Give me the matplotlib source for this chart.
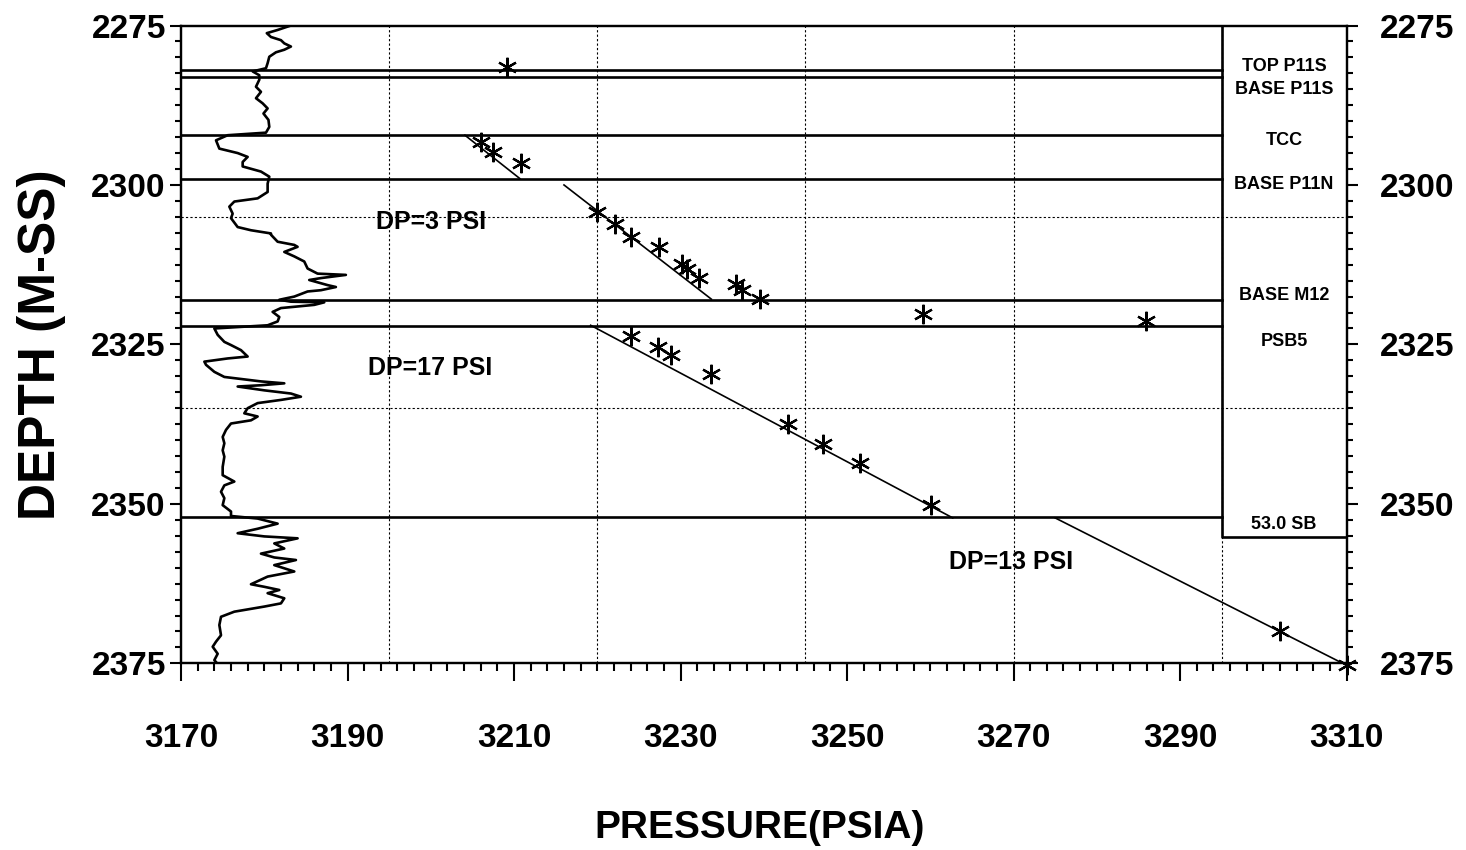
import matplotlib
matplotlib.use("Agg")
import matplotlib.pyplot as plt
from matplotlib.ticker import MultipleLocator, FixedLocator

plt.rcParams['font.family'] = ['Liberation Sans', 'DejaVu Sans']
plt.rcParams['font.weight'] = 'bold'

# formation tops (depth, m-ss) and their names in the side box
tops_depth = [2282.0, 2283.0, 2292.2, 2299.1, 2318.0, 2322.1, 2352.1]
box_labels = ["TOP P11S", "BASE P11S", "TCC", "BASE P11N", "BASE M12", "PSB5", "53.0 SB"]
box_label_depth = [2281.4, 2285.0, 2293.0, 2299.9, 2317.4, 2324.6, 2353.2]
box_bottom = 2355.2

# pressure points
press = [3209.2, 3206.0, 3207.5, 3210.8, 3220.0, 3222.1, 3224.1, 3227.4, 3230.2,
         3230.8, 3232.2, 3236.7, 3237.4, 3239.5, 3259.1, 3285.9, 3224.0, 3227.3,
         3228.9, 3233.6, 3242.9, 3247.1, 3251.5, 3260.1, 3302.0, 3310.0]
depth = [2281.5, 2293.2, 2294.8, 2296.5, 2304.2, 2306.1, 2308.1, 2309.8, 2312.4,
         2313.2, 2314.6, 2315.6, 2316.4, 2317.9, 2320.3, 2321.3, 2323.7, 2325.4,
         2326.6, 2329.6, 2337.5, 2340.6, 2343.6, 2350.1, 2370.0, 2375.3]

# gradient lines (pressure start/end, depth start/end)
grad_p = [(3204.1, 3210.7), (3216.0, 3233.7), (3219.2, 3262.7), (3275.0, 3310.0)]
grad_d = [(2292.2, 2299.0), (2300.0, 2317.9), (2322.0, 2352.2), (2352.2, 2375.3)]

dp_text = ["DP=3 PSI", "DP=17 PSI", "DP=13 PSI"]
dp_x = [3200.0, 3199.9, 3269.7]
dp_y = [2305.8, 2328.7, 2359.1]

x_ticks = [3170, 3190, 3210, 3230, 3250, 3270, 3290, 3310]

# log curve on the left
log_val = [3183.2, 3181.6, 3180.3, 3180.8, 3182.0, 3182.4, 3183.2, 3182.4, 3181.4, 3180.6,
           3180.4, 3180.2, 3178.6, 3179.4, 3179.4, 3179.0, 3179.6, 3179.0, 3179.8, 3180.4,
           3179.9, 3180.5, 3180.6, 3180.2, 3175.6, 3174.2, 3174.6, 3176.8, 3178.0, 3177.4,
           3177.4, 3179.6, 3180.6, 3180.4, 3180.4, 3179.2, 3176.4, 3175.8, 3176.2, 3176.0,
           3176.8, 3178.4, 3180.8, 3180.8, 3181.6, 3183.6, 3184.0, 3182.4, 3183.6, 3184.8,
           3185.2, 3186.4, 3189.8, 3186.8, 3185.4, 3187.6, 3188.6, 3186.8, 3185.2, 3183.6,
           3181.8, 3183.2, 3187.2, 3186.0, 3182.0, 3181.0, 3181.8, 3181.6, 3180.4, 3174.0,
           3174.4, 3175.2, 3176.0, 3177.2, 3178.0, 3175.6, 3172.8, 3173.0, 3174.0, 3175.2,
           3179.6, 3182.4, 3179.6, 3176.8, 3180.0, 3183.2, 3184.4, 3182.0, 3179.2, 3178.0,
           3177.6, 3179.2, 3178.4, 3176.0, 3175.4, 3175.0, 3175.2, 3175.0, 3175.2, 3175.0,
           3175.0, 3176.4, 3175.2, 3174.8, 3175.2, 3175.0, 3176.0, 3176.0, 3179.2, 3181.6,
           3179.2, 3176.8, 3180.0, 3184.0, 3181.2, 3182.4, 3179.6, 3181.2, 3183.8, 3181.2,
           3183.6, 3180.4, 3178.4, 3180.0, 3181.8, 3180.4, 3182.4, 3182.0, 3180.0, 3176.4,
           3174.8, 3174.6, 3174.8, 3174.2, 3173.8, 3174.4, 3174.0, 3174.2]
log_depth = [2275.0, 2275.7, 2276.2, 2276.8, 2277.3, 2277.8, 2278.3, 2278.8, 2279.2, 2279.9,
             2280.9, 2281.7, 2282.2, 2282.8, 2283.5, 2284.6, 2285.4, 2286.4, 2287.2, 2288.0,
             2288.8, 2289.8, 2290.9, 2291.8, 2292.2, 2293.0, 2294.3, 2295.0, 2295.6, 2296.4,
             2297.1, 2297.9, 2298.7, 2299.8, 2301.1, 2302.1, 2302.6, 2303.4, 2304.5, 2305.2,
             2306.6, 2307.1, 2307.6, 2307.8, 2308.9, 2309.4, 2309.7, 2310.5, 2311.2, 2312.0,
             2313.1, 2313.9, 2314.1, 2314.6, 2314.9, 2315.7, 2316.0, 2316.5, 2316.7, 2317.5,
             2318.0, 2318.3, 2318.4, 2318.8, 2319.3, 2319.9, 2320.7, 2321.4, 2322.0, 2322.5,
             2323.5, 2324.6, 2325.1, 2325.9, 2326.9, 2327.2, 2327.7, 2328.2, 2329.3, 2330.1,
             2330.8, 2331.1, 2331.4, 2331.6, 2332.2, 2332.7, 2333.2, 2333.7, 2334.2, 2335.0,
             2335.8, 2336.3, 2336.9, 2337.4, 2338.4, 2339.5, 2340.5, 2341.6, 2342.6, 2344.2,
             2345.5, 2346.5, 2347.1, 2348.1, 2349.1, 2350.2, 2351.2, 2351.9, 2352.3, 2353.1,
             2353.9, 2354.6, 2355.1, 2355.4, 2356.2, 2357.0, 2357.8, 2358.4, 2358.8, 2359.6,
             2360.6, 2361.4, 2362.6, 2363.0, 2363.5, 2364.0, 2364.8, 2365.6, 2366.1, 2366.9,
             2367.7, 2369.0, 2370.6, 2371.6, 2372.4, 2373.5, 2374.5, 2374.8]

grid_x = [3195, 3220, 3245, 3270, 3295]
grid_y = [2305, 2335]

fig = plt.figure(figsize=(14.66, 8.5), dpi=100)
ax = fig.add_axes([0.1235, 0.2196, 0.795, 0.7504])
ax.set_xlim(3170, 3310)
ax.set_ylim(2375, 2275)

for gx in grid_x:
    ax.axvline(gx, color='black', lw=0.8, ls=(0, (2, 2)), zorder=1)
for gy in grid_y:
    ax.axhline(gy, color='black', lw=0.8, ls=(0, (2, 2)), zorder=1)

ax.plot(log_val, log_depth, color='black', lw=1.9, zorder=3)

for d in tops_depth:
    ax.plot([3170, 3295], [d, d], color='black', lw=1.9, zorder=2)

# side box with formation names
ax.plot([3295, 3295, 3310], [2275, box_bottom, box_bottom], color='black', lw=1.9, zorder=2)
for lab, d in zip(box_labels, box_label_depth):
    ax.text(3302.5, d, lab, ha='center', va='center', fontsize=13, fontweight='bold')

for (p0, p1), (d0, d1) in zip(grad_p, grad_d):
    ax.plot([p0, p1], [d0, d1], color='black', lw=1.2, zorder=3)

ax.plot(press, depth, ls='none', marker=(6, 2, 0), markersize=14, mew=1.6,
        color='black', clip_on=False, zorder=4)

for t, x, y in zip(dp_text, dp_x, dp_y):
    ax.text(x, y, t, ha='center', va='center', fontsize=18, fontweight='bold')

ax.xaxis.set_major_locator(FixedLocator(x_ticks))
ax.xaxis.set_minor_locator(MultipleLocator(2))
ax.yaxis.set_major_locator(MultipleLocator(25))
ax.yaxis.set_minor_locator(MultipleLocator(2.5))
ax.tick_params(axis='x', which='major', direction='out', length=13, width=1.5, pad=30, labelsize=24)
ax.tick_params(axis='x', which='minor', direction='out', length=6, width=1.5)
ax.tick_params(axis='y', which='major', direction='out', length=8, width=1.5, pad=3, labelsize=24)
ax.tick_params(axis='y', which='minor', direction='out', length=4, width=1.5)
for lab in ax.get_yticklabels() + ax.get_xticklabels():
    lab.set_fontweight('bold')
for sp in ax.spines.values():
    sp.set_linewidth(1.6)

# right-hand depth axis
ax2 = ax.twinx()
ax2.set_ylim(2375, 2275)
ax2.yaxis.set_major_locator(MultipleLocator(25))
ax2.yaxis.set_minor_locator(MultipleLocator(2.5))
ax2.tick_params(axis='y', which='major', direction='out', length=8, width=1.5, pad=16, labelsize=24)
ax2.tick_params(axis='y', which='minor', direction='out', length=4, width=1.5)
for lab in ax2.get_yticklabels():
    lab.set_fontweight('bold')
for sp in ax2.spines.values():
    sp.set_linewidth(1.6)

fig.text(0.028, 0.594, "DEPTH (M-SS)", rotation=90, ha='center', va='center',
         fontsize=37, fontweight='bold')
fig.text(0.518, 0.026, "PRESSURE(PSIA)", ha='center', va='center',
         fontsize=28, fontweight='bold')

fig.savefig("out.png", dpi=100)
